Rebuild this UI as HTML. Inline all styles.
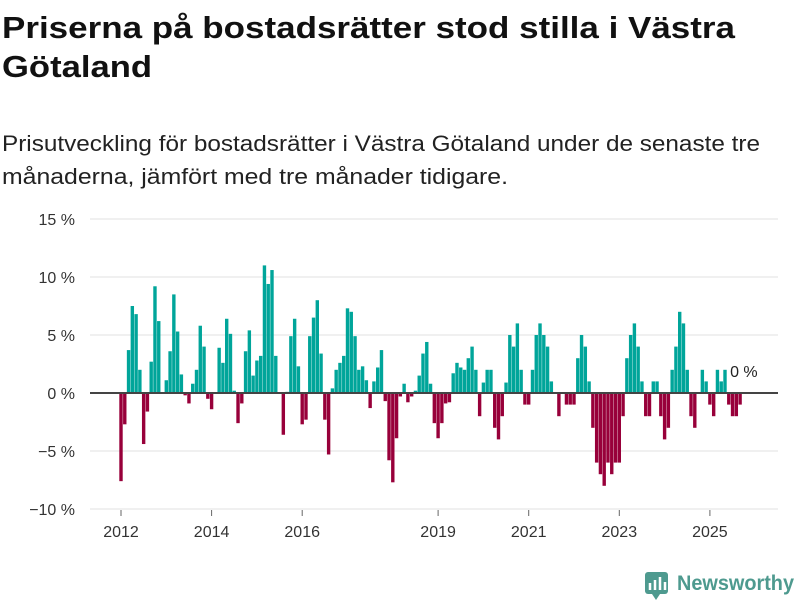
<!DOCTYPE html>
<html><head><meta charset="utf-8"><style>
html,body{margin:0;padding:0;background:#fff;width:800px;height:600px;overflow:hidden}
svg{display:block;font-family:"Liberation Sans",sans-serif}
</style></head><body>
<svg id="chart" width="800" height="600" viewBox="0 0 800 600">
<text x="2" y="38" font-size="31" font-weight="bold" fill="#111" textLength="733" lengthAdjust="spacingAndGlyphs">Priserna på bostadsrätter stod stilla i Västra</text>
<text x="2" y="77" font-size="31" font-weight="bold" fill="#111" textLength="150" lengthAdjust="spacingAndGlyphs">Götaland</text>
<text x="2" y="151" font-size="22" fill="#222" textLength="758" lengthAdjust="spacingAndGlyphs">Prisutveckling för bostadsrätter i Västra Götaland under de senaste tre</text>
<text x="2" y="184" font-size="22" fill="#222" textLength="506" lengthAdjust="spacingAndGlyphs">månaderna, jämfört med tre månader tidigare.</text>
<g id="grid"></g><g id="bars"></g><g id="axes"></g>
<g>
<rect x="645" y="572" width="23" height="22" rx="3" fill="#4e9a8f"/>
<path d="M650 590 L650 583 M655 590 L655 580 M660 590 L660 577 M665 590 L665 582" stroke="#fff" stroke-width="2.5"/>
<path d="M652 594 L656 600 L660 594 Z" fill="#4e9a8f"/>
<text x="677" y="590" font-size="21" font-weight="bold" fill="#4e9a8f" textLength="117" lengthAdjust="spacingAndGlyphs">Newsworthy</text>
</g>
</svg>
<script>
const values=[-7.6,-2.7,3.7,7.5,6.8,2.0,-4.4,-1.6,2.7,9.2,6.2,0,1.1,3.6,8.5,5.3,1.6,-0.2,-0.9,0.8,2.0,5.8,4.0,-0.5,-1.4,0,3.9,2.6,6.4,5.1,0.2,-2.6,-0.9,3.6,5.4,1.5,2.8,3.2,11.0,9.4,10.6,
3.2,0,-3.6,0.1,4.9,6.4,2.3,-2.7,-2.3,4.9,6.5,8.0,3.4,-2.3,-5.3,0.4,2.0,2.6,3.2,7.3,7.0,4.9,2.0,2.3,1.1,-1.3,1.0,2.2,3.7,-0.7,-5.8,-7.7,-3.9,-0.3,0.8,-0.8,-0.3,0.2,1.5,3.4,4.4,
0.8,-2.6,-3.9,-2.6,-0.9,-0.8,1.7,2.6,2.2,2.0,3.0,4.0,2.0,-2.0,0.9,2.0,2.0,-3,-4,-2,0.9,5,4,6,2,-1,-1,2,5,6,5,4,1,0,-2,0,-1,-1,-1,3,5,
4,1,-3,-6,-7,-8,-6,-7,-6,-6,-2,3,5,6,4,1,-2,-2,1,1,-2,-4,-3,2,4,7,6,2,-2,-3,0,2,1,-1,-2,2,1,2,-1,-2,-2,-1,0];
const startYear=2012;
const yTicks=[15,10,5,0,-5,-10];
const yTickLabels=["15 %","10 %","5 %","0 %","\u22125 %","\u221210 %"];
const xTickYears=[2012,2014,2016,2019,2021,2023,2025];
const lastLabel="0 %";

const NS="http://www.w3.org/2000/svg";
const x=i=>121+i*3.775;
const y=v=>393-v*11.6;
function mk(tag,attrs,parent){const e=document.createElementNS(NS,tag);for(const k in attrs)e.setAttribute(k,attrs[k]);parent.appendChild(e);return e;}
const grid=document.getElementById('grid'),bars=document.getElementById('bars'),axes=document.getElementById('axes');
yTicks.forEach((t,k)=>{
  if(t!==0){const l=mk('line',{x1:90,x2:778,y1:y(t),y2:y(t),stroke:'#e2e2e2','stroke-width':1},grid);
  
  }
  const tx=mk('text',{x:75,y:y(t)+6,'text-anchor':'end','font-size':16,fill:'#333'},axes);
  tx.textContent=yTickLabels[k];
  
  
});
values.forEach((v,i)=>{
  if(v===0)return;
  const r=mk('rect',{x:x(i)-1.7,width:3.4,y:v>0?y(v):y(0),height:Math.abs(v)*11.6,fill:v>0?'#00a59a':'#98003a'},bars);
  
  
});
const z=mk('line',{x1:90,x2:778,y1:y(0),y2:y(0),stroke:'#444','stroke-width':2},axes);


xTickYears.forEach(yr=>{
  const xi=x((yr-startYear)*12);
  const tk=mk('line',{x1:xi,x2:xi,y1:510,y2:516,stroke:'#666','stroke-width':1},axes);
  
  
  const t=mk('text',{x:xi,y:537,'text-anchor':'middle','font-size':16,fill:'#333'},axes);
  t.textContent=yr;
  
  
});
const li=values.length-1;
const lb=mk('text',{x:x(li),y:y(values[li])-16,'text-anchor':'middle','font-size':16,fill:'#222'},axes);
lb.textContent=lastLabel;


</script>
</body></html>
